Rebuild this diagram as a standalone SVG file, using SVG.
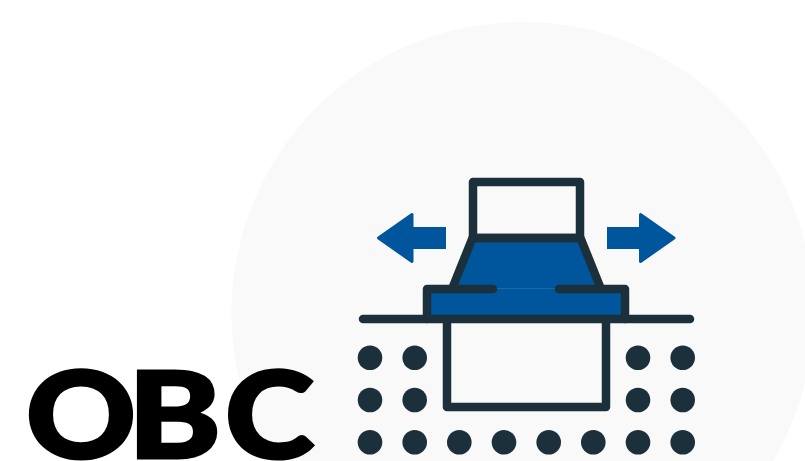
<svg xmlns="http://www.w3.org/2000/svg" width="805" height="461" viewBox="0 0 805 461">
<style>
.ln{fill:none;stroke:#1c303c;stroke-width:8.500;stroke-linecap:round;stroke-linejoin:round}
.bl{fill:#00569d}
.ar{fill:#00569d;stroke:#00569d;stroke-width:3;stroke-linejoin:round}
.dt{fill:#1c303c}
.ttl{font-family:Lato,"Liberation Sans",sans-serif;font-weight:900;font-size:121px;fill:#000;stroke:#000;stroke-width:3;stroke-linejoin:miter}
</style>
<rect width="805" height="461" fill="#fff"/>
<circle id="backdrop" cx="522.500" cy="313" r="291" fill="#f9f9f9"/>
<g id="title"><text class="ttl" y="458"><tspan x="26" textLength="110" lengthAdjust="spacingAndGlyphs">O</tspan><tspan x="128" textLength="93" lengthAdjust="spacingAndGlyphs">B</tspan><tspan x="225" textLength="89" lengthAdjust="spacingAndGlyphs">C</tspan></text></g>
<g id="arrow-left"><path class="bl" d="M446 227H410V249H446Z"/><path class="ar" d="M412 214.500L378.500 238L412 261.500Z"/></g>
<g id="arrow-right"><path class="bl" d="M607 227H643V249H607Z"/><path class="ar" d="M640.500 214.500L674 238L640.500 261.500Z"/></g>
<g id="trapezoid"><path class="bl" d="M473 238H580L600 289H453Z"/><path class="ln" d="M472.500 238H580.500L601 289M472.500 238L452 289"/></g>
<g id="top-box"><rect class="ln" x="473" y="182" width="107" height="56"/></g>
<g id="flange"><rect class="bl" x="427" y="289" width="198" height="30"/><path d="M493 288.500H559" stroke="#1a6aa8" stroke-width="1" fill="none"/><path class="ln" d="M493 289H427V319M559 289H625V319"/></g>
<g id="lower-box"><path class="ln" d="M447 319V407H606V319"/></g>
<g id="ground"><path class="ln" d="M363 319H690"/></g>
<g id="dots">
<circle class="dt" cx="370" cy="357.700" r="12.300"/><circle class="dt" cx="414.700" cy="357.700" r="12.300"/><circle class="dt" cx="638" cy="357.700" r="12.300"/><circle class="dt" cx="682.700" cy="357.700" r="12.300"/>
<circle class="dt" cx="370" cy="400" r="12.300"/><circle class="dt" cx="414.700" cy="400" r="12.300"/><circle class="dt" cx="638" cy="400" r="12.300"/><circle class="dt" cx="682.700" cy="400" r="12.300"/>
<circle class="dt" cx="370" cy="442.300" r="12.300"/><circle class="dt" cx="414.700" cy="442.300" r="12.300"/><circle class="dt" cx="459.300" cy="442.300" r="12.300"/><circle class="dt" cx="504" cy="442.300" r="12.300"/><circle class="dt" cx="548.700" cy="442.300" r="12.300"/><circle class="dt" cx="593.300" cy="442.300" r="12.300"/><circle class="dt" cx="638" cy="442.300" r="12.300"/><circle class="dt" cx="682.700" cy="442.300" r="12.300"/>
</g>
</svg>
